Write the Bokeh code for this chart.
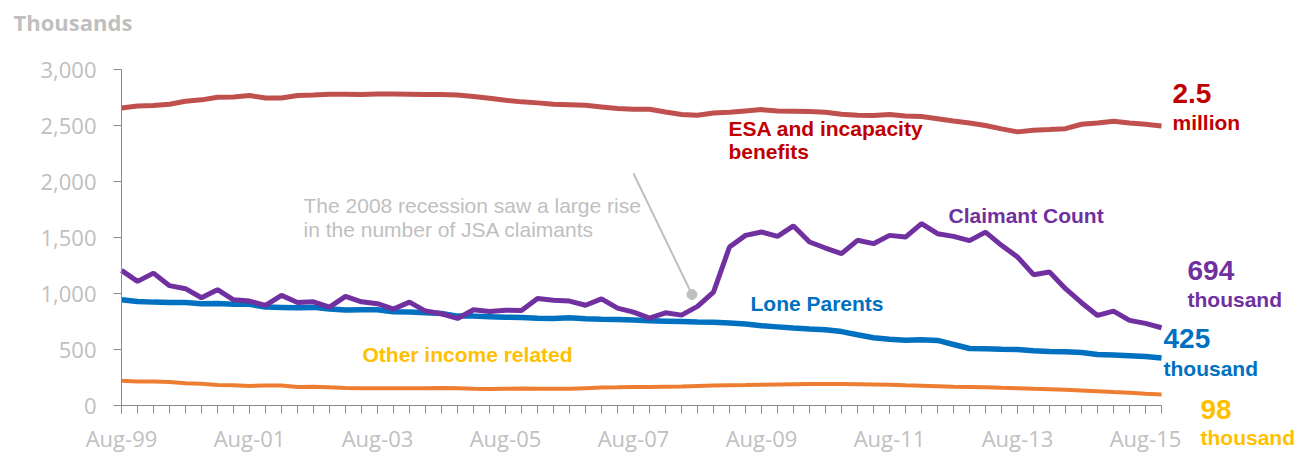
from bokeh.plotting import figure
from bokeh.models import Range1d, FixedTicker, Label, NumeralTickFormatter, ColumnDataSource
from bokeh.embed import file_html
from bokeh.resources import INLINE

# ---------------- data (thousands, quarterly Aug-99 .. Nov-15) ----------------
tick_labels = ["Aug-99", "Aug-01", "Aug-03", "Aug-05", "Aug-07",
               "Aug-09", "Aug-11", "Aug-13", "Aug-15"]

esa = [2657, 2675, 2678, 2690, 2717, 2729, 2752, 2755, 2768, 2746,
       2746, 2768, 2773, 2779, 2779, 2776, 2782, 2782, 2779, 2776,
       2776, 2773, 2758, 2743, 2726, 2711, 2702, 2690, 2686, 2680,
       2666, 2651, 2645, 2645, 2621, 2598, 2592, 2612, 2618, 2630,
       2642, 2630, 2627, 2624, 2618, 2600, 2592, 2589, 2598, 2585,
       2580, 2560, 2540, 2522, 2500, 2470, 2443, 2458, 2464, 2472,
       2511, 2523, 2538, 2523, 2511, 2496]

claimant = [1206, 1108, 1182, 1070, 1043, 962, 1034, 944, 932, 894,
            983, 920, 926, 879, 974, 926, 909, 861, 923, 843,
            819, 777, 855, 840, 850, 849, 956, 940, 932, 895,
            952, 870, 834, 780, 828, 807, 885, 1013, 1415, 1519,
            1549, 1510, 1603, 1460, 1406, 1356, 1475, 1445, 1519, 1504,
            1624, 1534, 1510, 1472, 1548, 1430, 1326, 1168, 1192, 1043,
            918, 804, 843, 760, 733, 694]

lone_parents = [944, 929, 923, 920, 920, 909, 911, 905, 903, 879,
                876, 873, 876, 861, 852, 855, 855, 837, 834, 828,
                822, 798, 798, 793, 788, 786, 780, 777, 784, 775,
                771, 768, 764, 756, 753, 750, 745, 744, 736, 728,
                712, 702, 692, 684, 677, 660, 632, 605, 592, 583,
                586, 581, 545, 509, 507, 503, 500, 489, 483, 480,
                474, 456, 450, 444, 438, 425]

other_income = [221, 215, 214, 210, 198, 194, 183, 180, 175, 178,
                178, 166, 168, 162, 157, 155, 155, 155, 154, 155,
                156, 155, 150, 148, 150, 152, 150, 150, 150, 155,
                160, 162, 165, 166, 168, 170, 175, 178, 180, 182,
                185, 188, 190, 192, 192, 192, 190, 188, 185, 180,
                176, 172, 168, 165, 162, 158, 155, 150, 146, 140,
                134, 128, 120, 113, 105, 98]

quarters = list(range(len(esa)))

# ---------------- geometry ----------------
W, H = 1296, 452
X0_PX, Y0_PX = 121, 405          # pixel position of the axes origin
PX_PER_Q = 16                    # pixels per quarter
PX_PER_UNIT = 336 / 3000         # pixels per thousand
XMAX = len(esa) - 1
YMAX = 3000

x_start = -X0_PX / PX_PER_Q
x_end = (W - X0_PX) / PX_PER_Q
y_start = -(H - Y0_PX) / PX_PER_UNIT
y_end = Y0_PX / PX_PER_UNIT

p = figure(width=W, height=H, output_backend="svg", toolbar_location=None,
           x_range=Range1d(x_start, x_end), y_range=Range1d(y_start, y_end),
           min_border=0, min_border_left=0, min_border_right=0,
           min_border_top=0, min_border_bottom=0)
p.outline_line_color = None
p.grid.visible = False
p.background_fill_color = "white"
p.border_fill_color = "white"

AXIS_GREY = "#898989"
LABEL_GREY = "#BFBFBF"

# x axis
p.xaxis.fixed_location = 0
p.xaxis.bounds = (0, XMAX)
p.xaxis.ticker = FixedTicker(ticks=list(range(0, 65, 8)), minor_ticks=quarters)
p.xaxis.major_label_overrides = {i * 8: lab for i, lab in enumerate(tick_labels)}
p.xaxis.axis_line_color = AXIS_GREY
p.xaxis.major_tick_line_color = AXIS_GREY
p.xaxis.minor_tick_line_color = AXIS_GREY
p.xaxis.major_tick_out = 8
p.xaxis.major_tick_in = 0
p.xaxis.minor_tick_out = 8
p.xaxis.minor_tick_in = 0
p.xaxis.major_label_text_color = LABEL_GREY
p.xaxis.major_label_text_font = "Open Sans"
p.xaxis.major_label_text_font_size = "22px"
p.xaxis.major_label_standoff = 9

# y axis
p.yaxis.fixed_location = 0
p.yaxis.bounds = (0, YMAX)
p.yaxis.ticker = FixedTicker(ticks=[0, 500, 1000, 1500, 2000, 2500, 3000], minor_ticks=[])
p.yaxis.formatter = NumeralTickFormatter(format="0,0")
p.yaxis.axis_line_color = AXIS_GREY
p.yaxis.major_tick_line_color = AXIS_GREY
p.yaxis.major_tick_out = 8
p.yaxis.major_tick_in = 0
p.yaxis.major_label_text_color = LABEL_GREY
p.yaxis.major_label_text_font = "Open Sans"
p.yaxis.major_label_text_font_size = "22px"
p.yaxis.major_label_standoff = 17

src = ColumnDataSource(dict(q=quarters, esa=esa, claimant=claimant,
                            lone=lone_parents, other=other_income))

p.line("q", "other", source=src, line_color="#ED7D31", line_width=4)
p.line("q", "lone", source=src, line_color="#0070C0", line_width=5.5)
p.line("q", "claimant", source=src, line_color="#7030A0", line_width=5)
p.line("q", "esa", source=src, line_color="#C0504D", line_width=5)

# ---------------- annotations ----------------
def dx(px):
    return (px - X0_PX) / PX_PER_Q

def dy(py):
    return (Y0_PX - py) / PX_PER_UNIT

BOLD = "Liberation Sans"

def lab(text, px, py, color, size=21, font=BOLD, style="bold"):
    # py is the wanted visual baseline; compensate the renderer's baseline offset
    shifted = py - 0.42 * size
    p.add_layout(Label(x=dx(px), y=dy(shifted), text=text, text_color=color,
                       text_font=font, text_font_size=f"{size}px", text_font_style=style,
                       text_align="left", text_baseline="alphabetic"))

lab("Thousands", 13, 31, LABEL_GREY, size=22, font="Open Sans")

lab("ESA and incapacity", 728, 137, "#C00000")
lab("benefits", 728, 160, "#C00000")
lab("Claimant Count", 948, 224, "#7030A0")
lab("Lone Parents", 750, 312, "#0070C0")
lab("Other income related", 362, 363, "#FFC000")

lab("2.5", 1172, 105, "#C00000", size=28)
lab("million", 1172, 131, "#C00000")
lab("694", 1187, 282, "#7030A0", size=28)
lab("thousand", 1187, 308, "#7030A0")
lab("425", 1163, 350, "#0070C0", size=28)
lab("thousand", 1163, 377, "#0070C0")
lab("98", 1200, 421, "#FFC000", size=28)
lab("thousand", 1200, 446, "#FFC000")

lab("The 2008 recession saw a large rise", 303, 214, LABEL_GREY, style="normal")
lab("in the number of JSA claimants", 303, 238, LABEL_GREY, style="normal")

# callout line pointing to the start of the recession rise
p.segment(x0=[dx(633)], y0=[dy(173)], x1=[dx(691.5)], y1=[dy(294)],
          line_color=LABEL_GREY, line_width=2)
p.scatter(x=[dx(691.5)], y=[dy(294)], size=10, color=LABEL_GREY)

open("out.html", "w").write(file_html(p, INLINE))
